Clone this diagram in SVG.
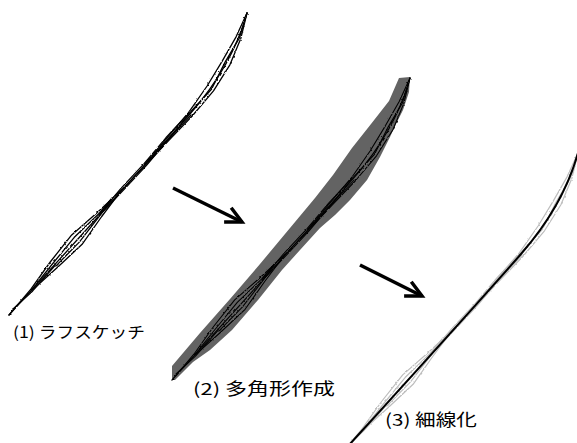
<svg xmlns="http://www.w3.org/2000/svg" xmlns:xlink="http://www.w3.org/1999/xlink" width="577" height="443" viewBox="0 0 577 443">
  <style>
    .sketch polyline { fill: none; stroke-linecap: round; stroke-linejoin: round; }
    .lbl { font-family: "Noto Sans CJK JP", "Noto Sans CJK SC", sans-serif; fill: #000; }
    .arrow { fill: none; stroke: #000; stroke-width: 3.5; }
  </style>
  <defs>
    <!-- open V arrowhead shared by both step arrows -->
    <marker id="head" markerUnits="userSpaceOnUse" viewBox="-22 -12 26 24" markerWidth="26" markerHeight="24" refX="0" refY="0" orient="auto">
      <path d="M-16,-8 L0,0 L-16,8" fill="none" stroke="#000" stroke-width="3.5" stroke-linejoin="miter"/>
    </marker>
    <!-- slight jitter so the strokes read as hand drawn -->
    <filter id="rough" x="-5%" y="-5%" width="110%" height="110%">
      <feTurbulence type="fractalNoise" baseFrequency="0.3" numOctaves="2" seed="7"/>
      <feDisplacementMap in="SourceGraphic" scale="2.2" xChannelSelector="R" yChannelSelector="G"/>
    </filter>
    <!-- centre line of the stroke, local coordinates -->
    <path id="centre" fill="none" stroke-linecap="round" d="M247,13 C238,45 220,80 190,114 C130,182 68,250 9,315"/>
    <!-- the rough stroke bundle, drawn once in local coordinates -->
    <g id="strokes" class="sketch">
      <use xlink:href="#centre"/>
      <polyline points="247,13 240.8,38.4 229.9,64.8 213.5,90.8 192.2,116 168.9,140.4 145.5,165 122.1,189.4"/>
      <polyline points="247,13 236.2,36.6 222.5,60.6 207.1,86 188.5,112.7 166.7,138.4 144.8,164.3"/>
      <polyline points="247,13 239.4,37.9 225.1,62.1 211.5,89.3 189.3,113.3 168.1,139.8 144.8,164.3"/>
      <polyline points="191.1,115 168.1,139.8 146.3,165.6 123.2,190.4 99.9,214.8"/>
      <polyline points="188.9,113 165.9,137.8 144.1,163.6 121,188.4 99.1,214.2"/>
      <polyline points="122.1,189.4 97.3,212.5 71.7,234.9 50.6,261.5 30.9,289.2 9,315"/>
      <polyline points="122.1,189.4 101.7,216.5 82.1,244.3 57.3,267.5 32,290.2"/>
      <polyline points="112,198 98.8,213.8 74.3,237.3 52.8,263.5 31.6,289.9"/>
      <polyline points="112,199 100.2,215.2 79.5,241.9 55.8,266.1"/>
      <polyline points="55,265.5 32.7,290.9 13,309"/>
    </g>
  </defs>

  <rect width="577" height="443" fill="#fff"/>

  <!-- step 1: rough sketch -->
  <g id="step1-rough-sketch">
    <use xlink:href="#strokes" stroke="#000" stroke-width="1.3" filter="url(#rough)"/>
    <text class="lbl" x="13" y="338" font-size="15.5" textLength="132" lengthAdjust="spacingAndGlyphs">(1) ラフスケッチ</text>
  </g>

  <!-- step 2: polygon built around the strokes -->
  <g id="step2-polygon">
    <path fill="#636363" d="M399,78 L410,77 L409,92 L403,110 L396,124 L390,137 L380,157 L367,180 L350,200 L335,215 L320,228 L300,250 L282,270 L258,300 L232,330 L210,350 L193,362 L175,380 L172,380 L172,366 L200,333 L230,299 L260,264 L290,228 L315,198 L333,175 L352,148 L371,124 L389,101 Z"/>
    <use xlink:href="#strokes" transform="translate(163,65)" stroke="#000" stroke-width="1.1" filter="url(#rough)"/>
    <text class="lbl" x="193" y="395" font-size="16.5" textLength="142" lengthAdjust="spacingAndGlyphs">(2) 多角形作成</text>
  </g>

  <!-- step 3: thinned centre line over the faded strokes -->
  <g id="step3-thinning">
    <use xlink:href="#strokes" transform="translate(331,140)" stroke="#bdbdbd" stroke-width="1.2" filter="url(#rough)"/>
    <use xlink:href="#centre" transform="translate(331,140)" stroke="#000" stroke-width="2"/>
    <text class="lbl" x="385" y="426" font-size="16.5" textLength="92" lengthAdjust="spacingAndGlyphs">(3) 細線化</text>
  </g>

  <!-- step arrows -->
  <g id="connectors">
    <path class="arrow" d="M173,188 L242,222" marker-end="url(#head)"/>
    <path class="arrow" d="M360,265 L422,296" marker-end="url(#head)"/>
  </g>
</svg>
